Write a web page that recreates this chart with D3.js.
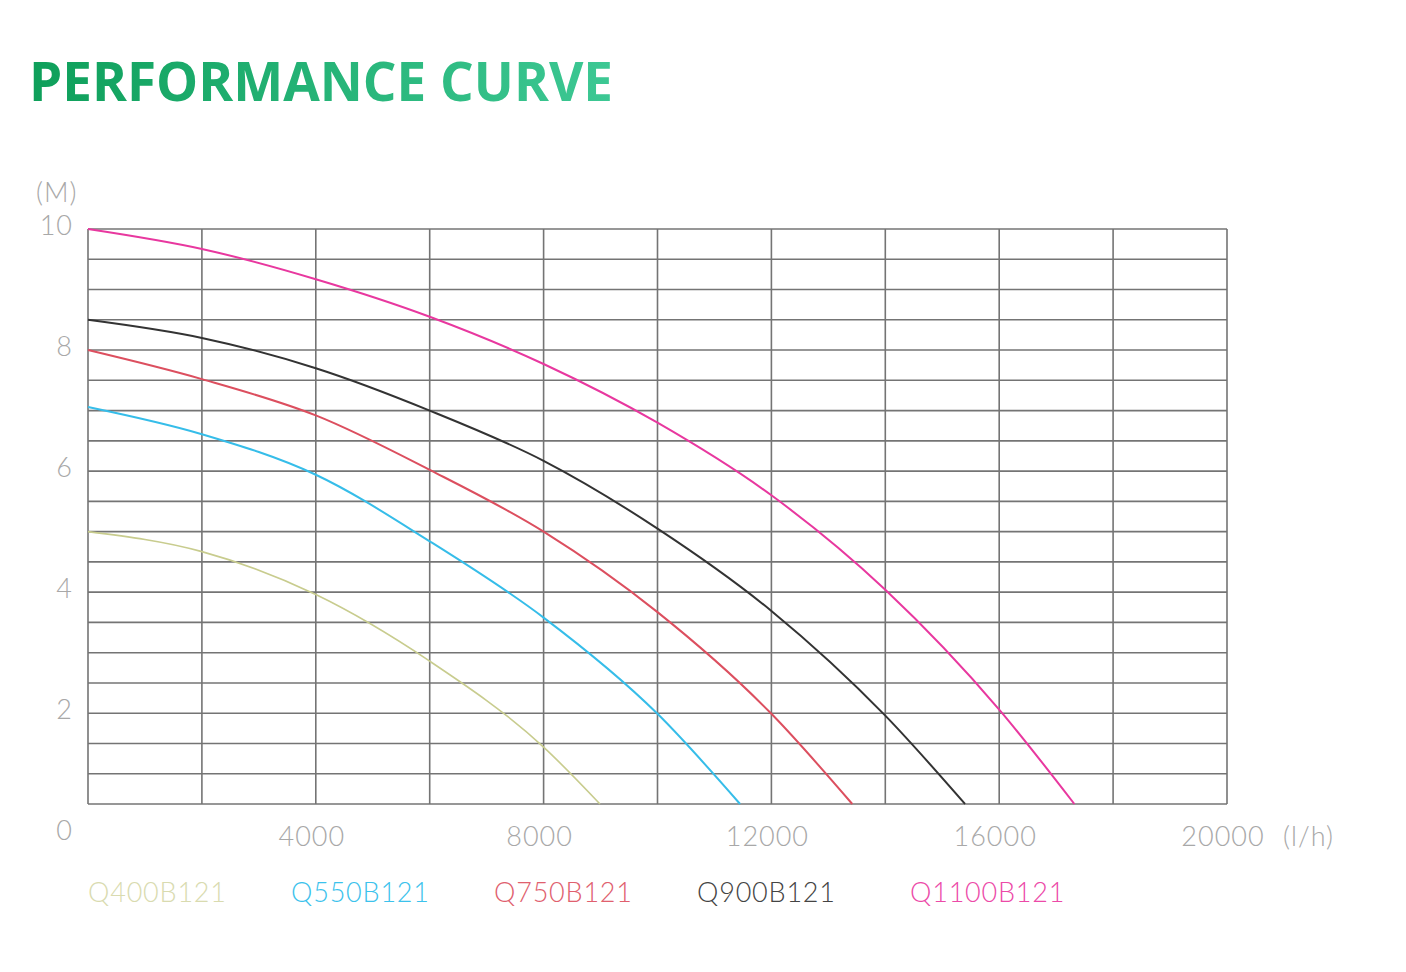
<!DOCTYPE html>
<html>
<head>
<meta charset="utf-8">
<script src="https://cdn.jsdelivr.net/npm/d3@7"></script>
<style>
  body { margin: 0; background: #fff; }
  text { font-family: Lato, "Liberation Sans", sans-serif; }
</style>
</head>
<body>
<script>
// flow in l/h, head in M
const models = ["Q400B121", "Q550B121", "Q750B121", "Q900B121", "Q1100B121"];
const colors = ["#c8cc8e", "#36bde9", "#dc4f5f", "#333333", "#e8389f"];
const legendColors = ["#d9dbb0", "#3cc2ec", "#e0606e", "#444444", "#ec4aa8"];

const q400 = [[0, 5.0], [2000, 4.67], [4000, 3.96], [6000, 2.86], [8000, 1.44], [8990, 0.5]];
const q550 = [[0, 7.06], [2000, 6.61], [4000, 5.94], [6000, 4.84], [8000, 3.58], [10000, 1.99], [11450, 0.5]];
const q750 = [[0, 8.0], [2000, 7.52], [4000, 6.92], [6000, 6.02], [8000, 5.0], [10000, 3.67], [12000, 1.99], [13420, 0.5]];
const q900 = [[0, 8.5], [2000, 8.2], [4000, 7.7], [6000, 7.0], [8000, 6.17], [10000, 5.05], [12000, 3.69], [14000, 1.96], [15400, 0.5]];
const q1100 = [[0, 10], [2000, 9.67], [4000, 9.17], [6000, 8.55], [8000, 7.77], [10000, 6.8], [12000, 5.6], [14000, 4.04], [16000, 2.06], [17320, 0.5]];
const series = [q400, q550, q750, q900, q1100];

const xTicks = [4000, 8000, 12000, 16000, 20000];
const yTicks = [0, 2, 4, 6, 8, 10];

const W = 1406, H = 972;
const svg = d3.select("body").append("svg").attr("width", W).attr("height", H);

// title with green gradient
const grad = svg.append("defs").append("linearGradient").attr("id", "tg")
  .attr("x1", "0%").attr("x2", "100%");
grad.append("stop").attr("offset", "0%").attr("stop-color", "#0e9f5a");
grad.append("stop").attr("offset", "100%").attr("stop-color", "#3dc894");
svg.append("text")
  .attr("x", 29).attr("y", 101)
  .style("font-family", "'Open Sans', 'Noto Sans', sans-serif")
  .style("font-weight", 700)
  .style("font-size", "53px")
  .attr("fill", "url(#tg)")
  .text("PERFORMANCE CURVE");

const x = d3.scaleLinear().domain([0, 20000]).range([88, 1227]);
const y = d3.scaleLinear().domain([0.5, 10]).range([804, 229]);

const grid = svg.append("g").attr("stroke", "#747474").attr("stroke-width", 1.6);
grid.selectAll("line.h")
  .data(d3.range(0.5, 10.01, 0.5))
  .enter().append("line").attr("class", "h")
  .attr("x1", x(0)).attr("x2", x(20000))
  .attr("y1", d => y(d)).attr("y2", d => y(d));
grid.selectAll("line.v")
  .data(d3.range(0, 20001, 2000))
  .enter().append("line").attr("class", "v")
  .attr("x1", d => x(d)).attr("x2", d => x(d))
  .attr("y1", y(0.5)).attr("y2", y(10));

const line = d3.line().x(d => x(d[0])).y(d => y(d[1])).curve(d3.curveMonotoneX);
svg.selectAll("path.curve")
  .data(series)
  .enter().append("path").attr("class", "curve")
  .attr("d", line)
  .attr("fill", "none")
  .attr("stroke", (d, i) => colors[i])
  .attr("stroke-width", (d, i) => i == 0 ? 1.6 : 2);

// axis labels
const lab = svg.append("g").attr("fill", "#a8a8a8")
  .style("font-size", "27px").style("font-weight", 300).style("letter-spacing", "1px");
lab.selectAll("text.y")
  .data(yTicks)
  .enter().append("text").attr("class", "y")
  .attr("x", 73).attr("y", d => y(d) - 5)
  .attr("text-anchor", "end").attr("dominant-baseline", "central")
  .text(d => d);
lab.selectAll("text.x")
  .data(xTicks)
  .enter().append("text").attr("class", "x")
  .attr("x", d => x(d) - 4).attr("y", y(0) + 1)
  .attr("text-anchor", "middle").attr("dominant-baseline", "central")
  .text(d => d);
lab.append("text").attr("x", 1283).attr("y", y(0) + 1)
  .attr("dominant-baseline", "central").text("(l/h)");
lab.append("text").attr("x", 36).attr("y", 191)
  .attr("dominant-baseline", "central").text("(M)");

// legend
svg.selectAll("text.leg")
  .data(models)
  .enter().append("text").attr("class", "leg")
  .attr("x", (d, i) => 88 + i * 203 + (i == 4 ? 10 : 0))
  .attr("y", 891)
  .attr("dominant-baseline", "central")
  .style("font-size", "27px").style("font-weight", 300).style("letter-spacing", "0.8px")
  .attr("fill", (d, i) => legendColors[i])
  .text(d => d);
</script>
</body>
</html>
